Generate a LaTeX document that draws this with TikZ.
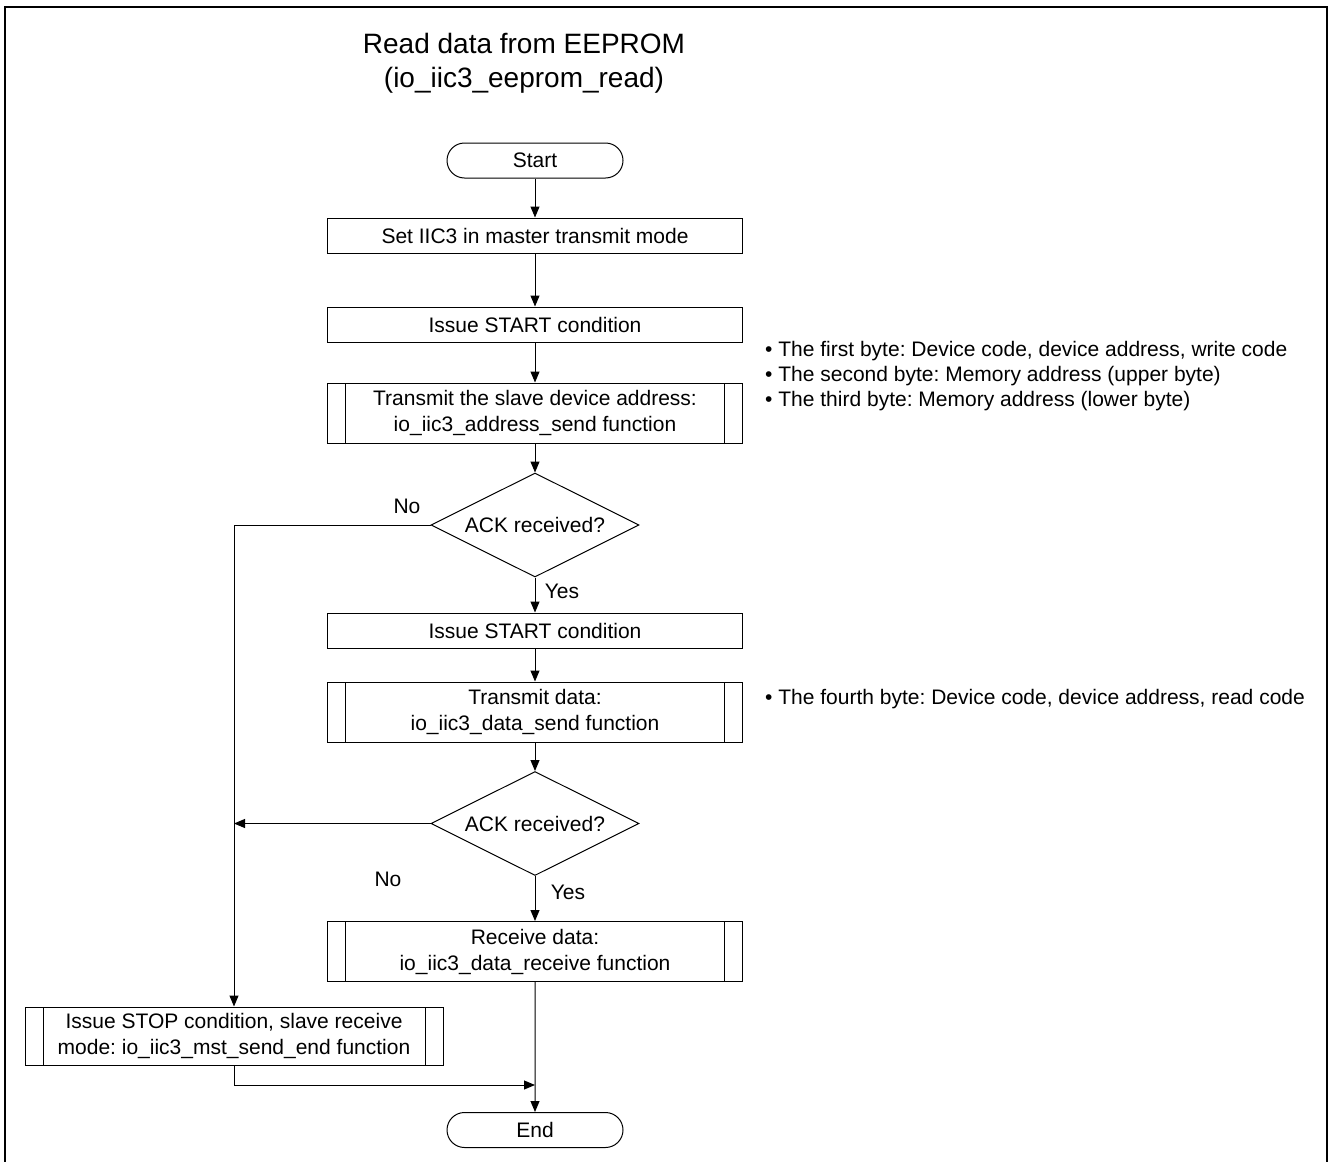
\documentclass[tikz,border=0pt]{standalone}
\usepackage{fontspec}
\setmainfont{Liberation Sans}
\usetikzlibrary{arrows.meta,shapes.geometric,shapes.misc}
\frenchspacing

\begin{document}
\begin{tikzpicture}[x=1pt,y=-1pt,
  txt/.style={font=\fontsize{21}{26}\selectfont},
  base/.style={txt, draw, line width=1pt, align=center, inner sep=0pt},
  proc/.style={base, rectangle, minimum width=415pt, minimum height=35pt},
  subproc/.style={base, rectangle, minimum width=415pt, minimum height=60pt,
    path picture={
      \draw[line width=1pt]
        ([xshift=18pt]path picture bounding box.north west) --
        ([xshift=18pt]path picture bounding box.south west)
        ([xshift=-18pt]path picture bounding box.north east) --
        ([xshift=-18pt]path picture bounding box.south east);
    }},
  term/.style={base, rounded rectangle, minimum width=176pt, minimum height=35pt},
  decide/.style={base, diamond, aspect=2, minimum width=208pt, minimum height=104pt},
  arr/.style={line width=1pt, -{Triangle[length=11pt,width=9pt]}},
  lbl/.style={txt, inner sep=0pt},
  note/.style={txt, inner sep=0pt, anchor=west, align=left}]

\useasboundingbox (0,0) rectangle (1328,1162);

% outer frame (open at the bottom edge of the page)
\draw[line width=2pt] (5,1175) -- (5,7) -- (1327,7) -- (1327,1175);

% title
\node[font=\fontsize{28}{34}\selectfont, align=center, inner sep=0pt] (title) at (524,63)
  {Read data from EEPROM\\(io\_iic3\_eeprom\_read)};

% flow nodes
\node[term] (start) at (535,160.5) {Start};
\node[proc] (setm) at (535,235.5) {Set IIC3 in master transmit mode};
\node[proc] (st1) at (535,324.5) {Issue START condition};
\node[subproc] (addr) at (535,413) {Transmit the slave device address:\\io\_iic3\_address\_send function};
\node[decide] (ack1) at (535,525) {ACK received?};
\node[proc] (st2) at (535,630.5) {Issue START condition};
\node[subproc] (dsend) at (535,712) {Transmit data:\\io\_iic3\_data\_send function};
\node[decide] (ack2) at (535,823.5) {ACK received?};
\node[subproc] (recv) at (535,951.5) {Receive data:\\io\_iic3\_data\_receive function};
\node[subproc, minimum width=418pt, minimum height=58pt] (stop) at (234,1036)
  {Issue STOP condition, slave receive\\mode: io\_iic3\_mst\_send\_end function};
\node[term] (fin) at (535,1130) {End};

% helper points
\coordinate (j1) at (stop.north |- ack2.west);
\coordinate (j2) at (535,1085);

% connectors
\draw[arr] (start) -- (setm);
\draw[arr] (setm) -- (st1);
\draw[arr] (st1) -- (addr);
\draw[arr] (addr) -- (ack1);
\draw[arr] (ack1) -- (st2);
\draw[arr] (st2) -- (dsend);
\draw[arr] (dsend) -- (ack2);
\draw[arr] (ack2) -- (recv);
\draw[arr] (recv) -- (fin);
\draw[arr] (ack1.west) -| (stop.north);
\draw[arr] (ack2.west) -- (j1);
\draw[arr] (stop.south) |- (j2);

% branch labels
\node[lbl] (no1) at (407,506) {No};
\node[lbl] (yes1) at (562,591) {Yes};
\node[lbl] (no2) at (388,879) {No};
\node[lbl] (yes2) at (568,892) {Yes};

% side notes
\node[note] (n1) at (765,351) {\textbullet\ The first byte: Device code, device address, write code};
\node[note] (n2) at (765,376) {\textbullet\ The second byte: Memory address (upper byte)};
\node[note] (n3) at (765,401) {\textbullet\ The third byte: Memory address (lower byte)};
\node[note] (n4) at (765,699) {\textbullet\ The fourth byte: Device code, device address, read code};
\end{tikzpicture}
\end{document}
